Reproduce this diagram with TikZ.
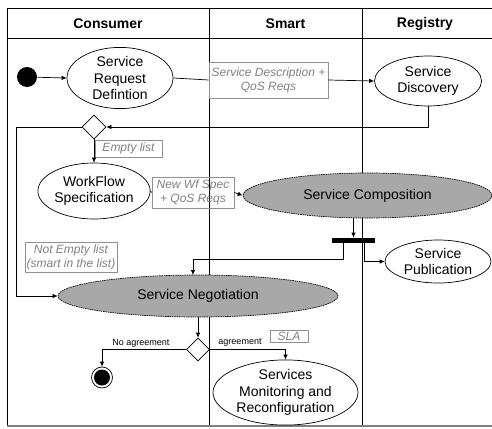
\documentclass[tikz,border=0pt]{standalone}
\usepackage{fontspec}
\setmainfont{Liberation Sans}
\usetikzlibrary{shapes.geometric,arrows.meta}
\definecolor{lblgray}{HTML}{808080}
\definecolor{boxgray}{HTML}{909090}
\definecolor{fillgray}{HTML}{A8A8A8}
\begin{document}
\begin{tikzpicture}[x=1pt,y=-1pt,line width=0.7pt,
  every node/.style={font=\fontsize{14}{16.5}\selectfont},
  act/.style={ellipse,draw,line width=0.7pt,inner sep=0pt,align=center},
  gact/.style={act,fill=fillgray,dash pattern=on 1.5pt off 0.8pt},
  lbl/.style={draw=boxgray,line width=0.7pt,inner sep=0pt,align=center,text=lblgray,font=\fontsize{12}{14}\selectfont\itshape},
  cond/.style={inner sep=0pt,font=\fontsize{9}{10}\selectfont},
  hdr/.style={font=\fontsize{14}{16}\selectfont\bfseries},
  arr/.style={-{Latex[length=5pt,width=4.5pt]}},
  ln/.style={},
  dec/.style={diamond,draw,fill=white,minimum width=24pt,minimum height=24pt,inner sep=0pt}]
\useasboundingbox (0,0) rectangle (492,428);
% frame
\draw (492,8) -- (7,8) -- (7,426);
\draw (7,38) -- (492,38);
\draw (209,8) -- (209,426);
\draw (362,8) -- (362,426);
\draw[line width=2pt,draw=gray] (7,426) -- (492,426);
\node[hdr] (h1) at (108,24) {Consumer};
\node[hdr] (h2) at (285.5,24) {Smart};
\node[hdr] (h3) at (425,24) {Registry};
% nodes
\node[circle,fill=black,minimum size=20pt,inner sep=0pt] (start) at (27,77) {};
\node[act,minimum width=106pt,minimum height=51pt] (srd) at (120,78) {Service\\Request\\Defintion};
\node[lbl,minimum width=119pt,minimum height=36pt] (desc) at (268.5,80) {Service Description +\\QoS Reqs};
\node[act,minimum width=107pt,minimum height=50pt] (sd) at (428,81) {Service\\Discovery};
\node[dec] (d1) at (94,127) {};
\node[lbl,minimum width=67pt,minimum height=17pt] (empty) at (128.5,148.5) {Empty list};
\node[act,minimum width=106pt,minimum height=56pt] (wfs) at (94,191) {WorkFlow\\Specification};
\node[lbl,minimum width=82pt,minimum height=31pt] (newwf) at (193,192.5) {New Wf Spec\\+ QoS Reqs};
\node[gact,minimum width=249pt,minimum height=45pt] (sc) at (367.5,195.5) {Service Composition};
\node[rectangle,fill=black,minimum width=43pt,minimum height=5pt,inner sep=0pt] (bar) at (353.5,240.5) {};
\node[act,minimum width=106pt,minimum height=43pt] (sp) at (438,261.5) {Service\\Publication};
\node[lbl,minimum width=92pt,minimum height=30pt] (notempty) at (71,257) {Not Empty list\\(smart in the list)};
\node[gact,minimum width=280pt,minimum height=42pt] (sn) at (198,296) {Service Negotiation};
\node[dec,minimum width=23pt,minimum height=23pt] (d2) at (198,349.5) {};
\node[circle,draw,minimum size=21pt,inner sep=0pt] (endo) at (102,377.5) {};
\node[circle,fill=black,minimum size=16pt,inner sep=0pt] (endi) at (102,377.5) {};
\node[cond] (noag) at (141,343) {No agreement};
\node[cond] (ag) at (240,343) {agreement};
\node[lbl,minimum width=38pt,minimum height=12pt] (sla) at (289,336) {SLA};
\node[act,minimum width=145pt,minimum height=61pt] (smr) at (285.5,392.5) {Services\\Monitoring and\\Reconfiguration};
% coordinates
\coordinate (l1) at (16,127);
\coordinate (f1) at (343,243);
\coordinate (f1b) at (193,259);
\coordinate (n1) at (193,275);
\coordinate (f2) at (364,243);
% connectors
\draw[arr] (start) -- (srd.west);
\draw[ln] (srd.east) -- (desc.west);
\draw[arr] (desc.east) -- (sd.west);
\draw[arr] (sd.south) |- (d1.east);
\draw[arr] (d1.west) -- (l1) |- (sn.west);
\draw[arr] (d1.south) -- (wfs.north);
\draw[ln] (wfs.east) -- (newwf.west);
\draw[arr] (newwf.east) -- (sc.west);
\draw[arr] (bar.north |- sc.south) -- (bar.north);
\draw[arr] (f1) |- (f1b) -- (n1);
\draw[arr] (f2) |- (sp.west);
\draw[arr] (sn.south) -- (d2.north);
\draw[arr] (d2.west) -| (endo.north);
\draw[arr] (d2.east) -| (smr.north);
\end{tikzpicture}
\end{document}
